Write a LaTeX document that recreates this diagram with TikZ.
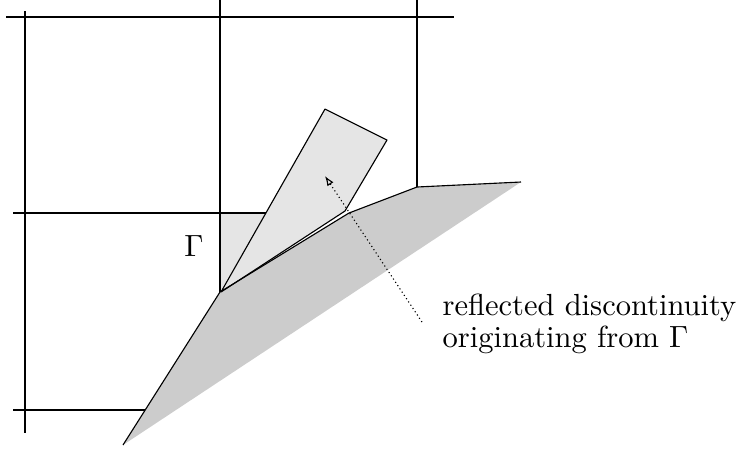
\documentclass[tikz,border=0pt]{standalone}
\usepackage{tikz}
\usetikzlibrary{arrows.meta}

\newcommand{\thecells}{
    \draw (6,17) -- (454,17);
    \draw (13,213) -- (266,213);
    \draw (13,410) -- (145,410);
    \draw (25,11) -- (25,433);
    \draw (220,0) -- (220,292);
    \draw (417,0) -- (417,187);
}
\tikzset{x=0.357pt, y=-0.357pt, line width=0.3pt,
    every node/.append style={font=\fontsize{10.9}{11.4}\selectfont}}

\begin{document}
\begin{tikzpicture}
                \useasboundingbox (0,0) rectangle (742,450);
                \coordinate (corner) at (220,292);
                \coordinate (foot) at (123,445);
                \coordinate (knee) at (349,213);
                \coordinate (step) at (417,187);
                \coordinate (tip) at (521,182);
                \fill[black!10] (220,213) -- (266,213) -- (corner) -- cycle;
                \thecells
                \fill[black!20] (corner) -- (foot) -- (tip) -- (step) -- (knee) -- cycle;
                \filldraw[fill=black!10, line join=round]
                    (221,292) -- (325,109) -- (387,140) -- (345,211) -- cycle;
                \draw[line join=round] (foot) -- (corner) -- (knee) -- (step) -- (tip);
                \node (gamma) at (194,246) {$\Gamma$};
                \node[anchor=base west, align=left, inner sep=0pt] (label) at (442,347)
                    {reflected discontinuity\\originating from $\Gamma$};
                \coordinate (tail) at (422,322);
                \coordinate (head) at (325,176);
                \draw[densely dotted, -{Latex[length=3.5pt, width=2.6pt, open]}] (tail) -- (head);
            \end{tikzpicture}
\end{document}
